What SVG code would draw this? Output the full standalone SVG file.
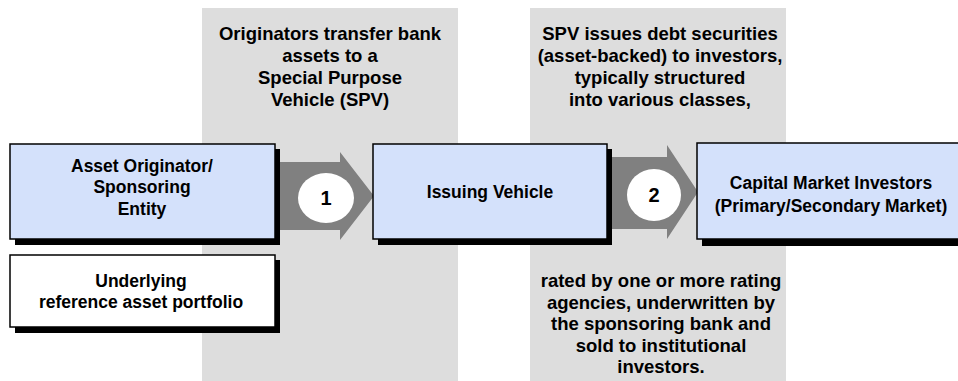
<svg xmlns="http://www.w3.org/2000/svg" width="958" height="381" viewBox="0 0 958 381">
  <style>
    .panel { fill: #dddddd; }
    .shadow { fill: #000000; }
    .box { fill: #d4e1fb; stroke: #000000; stroke-width: 1.5; }
    .plain { fill: #ffffff; stroke: #000000; stroke-width: 1.5; }
    .arrow { fill: #808080; }
    .badge { fill: #ffffff; }
    text { font-family: "Liberation Sans", Arial, sans-serif; font-weight: bold; fill: #000000; text-anchor: middle; }
    .note { font-size: 18.5px; }
    .label { font-size: 17.5px; }
    .num { font-size: 20px; }
  </style>

  <!-- shaded background bands behind the two transfer steps -->
  <rect class="panel" x="202" y="8" width="256" height="373"/>
  <rect class="panel" x="530" y="8" width="256" height="373"/>

  <!-- step descriptions -->
  <g id="note-transfer">
    <text class="note" x="330" y="40">Originators transfer bank</text>
    <text class="note" x="330" y="62">assets to a</text>
    <text class="note" x="330" y="84">Special Purpose</text>
    <text class="note" x="330" y="106">Vehicle (SPV)</text>
  </g>
  <g id="note-issue">
    <text class="note" x="660" y="40">SPV issues debt securities</text>
    <text class="note" x="660" y="62">(asset-backed) to investors,</text>
    <text class="note" x="660" y="84">typically structured</text>
    <text class="note" x="660" y="106">into various classes,</text>
  </g>
  <g id="note-rating">
    <text class="note" x="661" y="287">rated by one or more rating</text>
    <text class="note" x="661" y="309">agencies, underwritten by</text>
    <text class="note" x="661" y="330">the sponsoring bank and</text>
    <text class="note" x="661" y="352">sold to institutional</text>
    <text class="note" x="661" y="373">investors.</text>
  </g>

  <!-- connectors: block arrows with numbered badges -->
  <g id="connectors">
    <g id="step-1">
      <polygon class="arrow" points="275,162 340,162 340,152 374,196 340,240 340,230 275,230"/>
      <ellipse class="badge" cx="326" cy="198" rx="28" ry="25"/>
      <text class="num" x="326" y="205">1</text>
    </g>
    <g id="step-2">
      <polygon class="arrow" points="607,157 667,157 667,145 698,192 667,239 667,229 607,229"/>
      <ellipse class="badge" cx="654" cy="195" rx="27" ry="26"/>
      <text class="num" x="654" y="202">2</text>
    </g>
  </g>

  <!-- nodes -->
  <g id="originator">
    <rect class="shadow" x="15" y="149" width="265" height="96"/>
    <rect class="box" x="10" y="144" width="265" height="95"/>
    <text class="label" x="142" y="172">Asset Originator/</text>
    <text class="label" x="142" y="193">Sponsoring</text>
    <text class="label" x="142" y="215">Entity</text>
  </g>

  <g id="portfolio">
    <rect class="shadow" x="15" y="260" width="265" height="73"/>
    <rect class="plain" x="10" y="255" width="265" height="72"/>
    <text class="label" x="141" y="287">Underlying</text>
    <text class="label" x="141" y="308">reference asset portfolio</text>
  </g>

  <g id="issuer">
    <rect class="shadow" x="378" y="149" width="234" height="96"/>
    <rect class="box" x="373" y="144" width="234" height="95"/>
    <text class="label" x="490" y="198">Issuing Vehicle</text>
  </g>

  <g id="investors">
    <rect class="shadow" x="702" y="148" width="262" height="98"/>
    <rect class="box" x="697" y="143" width="264" height="96"/>
    <text class="label" x="831" y="189">Capital Market Investors</text>
    <text class="label" x="831" y="212">(Primary/Secondary Market)</text>
  </g>
</svg>
